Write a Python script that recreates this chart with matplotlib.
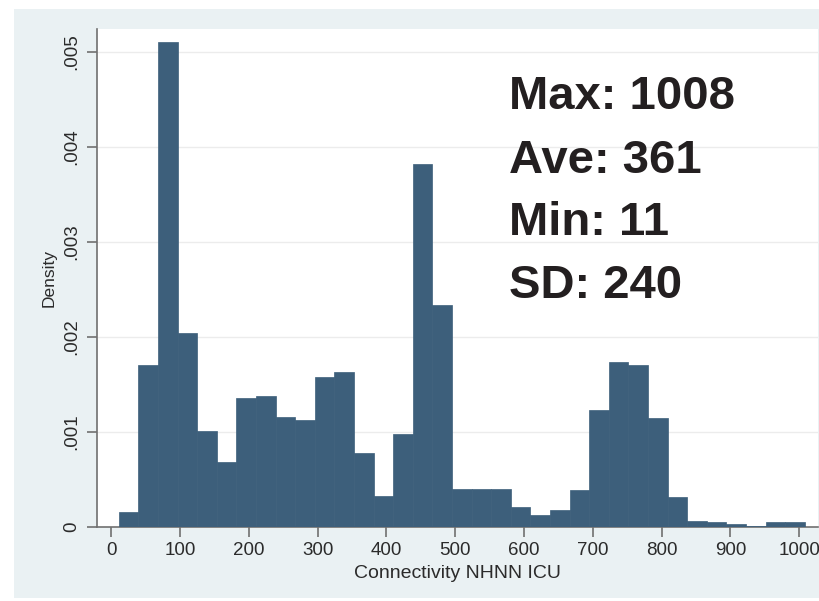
import numpy as np
import matplotlib
matplotlib.use("Agg")
import matplotlib.pyplot as plt
from matplotlib.patches import Rectangle

# ---- data ----
data_min = 11
data_max = 1008
n_bins = 35
densities = [0.000158, 0.00170, 0.00510, 0.00204, 0.00101, 0.000684, 0.00136,
             0.001376, 0.00115, 0.00112, 0.00158, 0.001625, 0.000773, 0.000326,
             0.000976, 0.003818, 0.002334, 0.000392, 0.000392, 0.000392,
             0.000203, 0.000119, 0.000176, 0.000385, 0.00123, 0.00173, 0.00170,
             0.001147, 0.00031, 0.00006, 0.000045, 0.00003, 0.000012, 0.00005,
             0.00005]
x_ticks = [0, 100, 200, 300, 400, 500, 600, 700, 800, 900, 1000]
y_ticks = [0, 0.001, 0.002, 0.003, 0.004, 0.005]
y_tick_labels = ["0", ".001", ".002", ".003", ".004", ".005"]
stats_lines = ["Max: 1008", "Ave: 361", "Min: 11", "SD: 240"]

W, H = 820, 601
FONT = "Liberation Sans"
plt.rcParams['font.family'] = [FONT, 'DejaVu Sans']

fig = plt.figure(figsize=(W / 100, H / 100), dpi=100, facecolor="white")
# Stata-like graph region background
fig.patches.append(Rectangle((14 / W, 1 - 598 / H), (W - 14) / W, (598 - 9) / H,
                             transform=fig.transFigure, facecolor="#eaf1f3",
                             edgecolor="none", zorder=-10))

ax = fig.add_axes([97 / W, 1 - 527 / H, (818 - 97) / W, (527 - 29) / H])
ax.set_zorder(1)
ax.set_facecolor("white")

edges = np.linspace(data_min, data_max, n_bins + 1)
ax.bar(edges[:-1], densities, width=np.diff(edges), align="edge",
       color="#3d5f7b", edgecolor="#3d5f7b", linewidth=0.5, zorder=3)

ax.set_xlim(-20.7, 1027.2)
ax.set_ylim(-0.000003, 0.005239)

ax.set_xticks(x_ticks)
ax.set_xticklabels([str(t) for t in x_ticks])
ax.set_yticks(y_ticks)
ax.set_yticklabels(y_tick_labels, rotation=90, va="center")

for s in ["top", "right"]:
    ax.spines[s].set_visible(False)
for s in ["left", "bottom"]:
    ax.spines[s].set_color("#707070")
    ax.spines[s].set_linewidth(1.2)

ax.tick_params(axis="both", colors="#707070", length=7, width=1.2,
               labelsize=13.5, labelcolor="#2b2b2b")
ax.tick_params(axis="x", pad=4)
ax.tick_params(axis="y", pad=5)

ax.grid(axis="y", color="#ececec", linewidth=1.0, zorder=0)
ax.set_axisbelow(True)

ax.set_xlabel("Connectivity NHNN ICU", fontsize=14, color="#2b2b2b", labelpad=4)
ax.set_ylabel("Density", fontsize=12.5, color="#2b2b2b", labelpad=5)

baselines = [109.3, 172.7, 235.0, 298.0]
for txt, b in zip(stats_lines, baselines):
    fig.text(509 / W, 1 - b / H, txt, fontsize=34, fontweight="bold",
             color="#231f20", ha="left", va="baseline", family=FONT, zorder=5)

fig.savefig("out.png", dpi=100, facecolor="white")
